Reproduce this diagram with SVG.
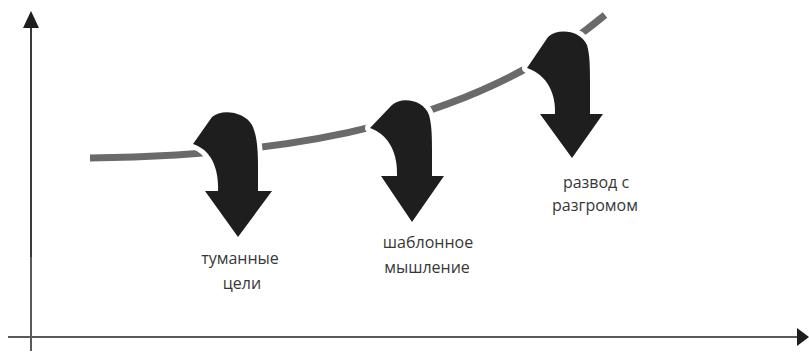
<svg xmlns="http://www.w3.org/2000/svg" width="809" height="355" viewBox="0 0 809 355">
<style>
.ax{stroke:#3a3a3a;stroke-width:2;fill:none}
.ax2{stroke:#5a5a5a;stroke-width:2;fill:none}
.head{fill:#1e1e1e}
.curve{stroke:#6a6a6a;stroke-width:7;fill:none}
.arr{fill:#1e1e1e;stroke:#fff;stroke-width:10;paint-order:stroke;stroke-linejoin:round}
.lbl{font-family:"Open Sans","Noto Sans",sans-serif;font-size:16px;fill:#383838;text-anchor:middle}
</style>
<rect width="809" height="355" fill="#fff"/>
<g id="axes">
<line class="ax" x1="31" y1="26" x2="31" y2="258"/>
<line class="ax2" x1="31" y1="257" x2="31" y2="351"/>
<polygon class="head" points="31,11 39,28 23,28"/>
<line class="ax2" x1="8" y1="337" x2="798" y2="337"/>
<polygon class="head" points="809,337 797,328 797,346"/>
</g>
<g id="connectors">
<path class="curve" d="M90,158 C300,156 480,120 605,15"/>
</g>
<g id="n1">
<path class="arr" d="M193,144 L212,117 C222,108 245,112 252,125 C257,135 258,150 258,165 L258,191 L272,191 L238,237 L205,191 L218,191 C219,170 212,150 193,144 Z"/>
<text class="lbl" x="240" y="264">туманные</text>
<text class="lbl" x="242" y="289">цели</text>
</g>
<g id="n2">
<path class="arr" d="M370,128 L392,105 C402,96 424,100 429,115 C432,125 432,140 432,150 L432,176 L444,176 L412,222 L381,176 L397,176 C398,155 390,135 370,128 Z"/>
<text class="lbl" x="428" y="248">шаблонное</text>
<text class="lbl" x="427" y="273">мышление</text>
</g>
<g id="n3">
<path class="arr" d="M527,68 L548,37 C558,28 580,30 587,45 C590,55 590,70 590,80 L590,114 L603,114 L572,158 L540,114 L555,114 C556,95 548,75 527,68 Z"/>
<text class="lbl" x="596" y="188">развод с</text>
<text class="lbl" x="595" y="211">разгромом</text>
</g>
</svg>
